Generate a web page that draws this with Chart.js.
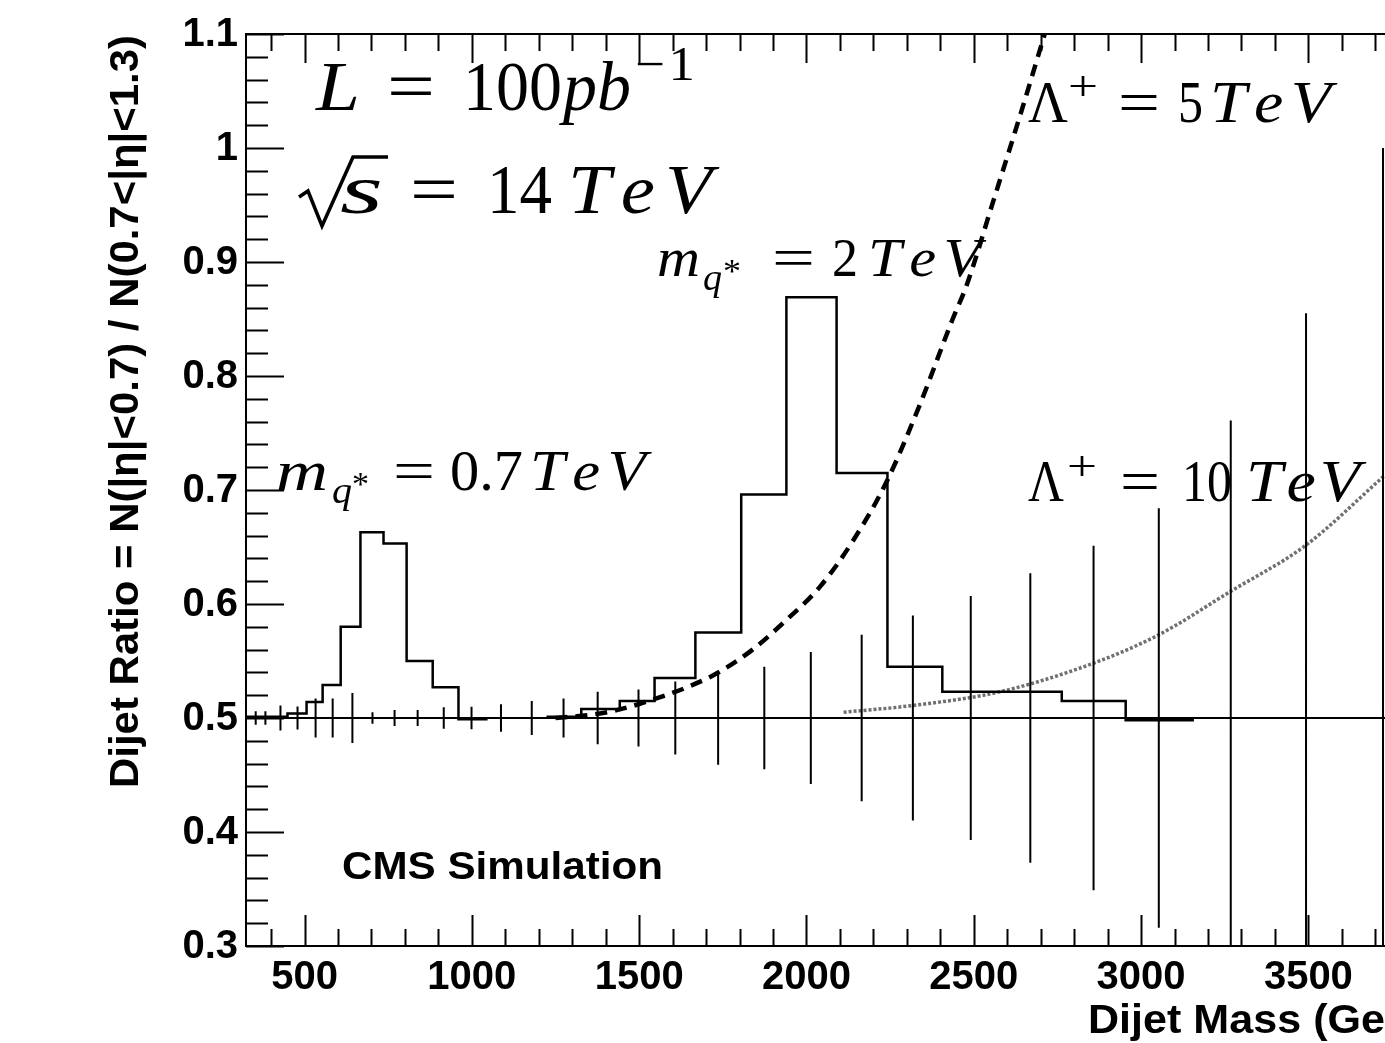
<!DOCTYPE html>
<html>
<head>
<meta charset="utf-8">
<script src="https://cdn.jsdelivr.net/npm/chart.js@4.4.1/dist/chart.umd.min.js"></script>
<style>
  html, body { margin: 0; padding: 0; background: #fff; }
  canvas { display: block; }
</style>
</head>
<body>
<canvas id="ratioChart" width="1385" height="1043"></canvas>
<script>
// axis ranges and tick labels
const massRange = [325, 3729];
const ratioRange = [0.3, 1.1];
const massTickValues = [500, 1000, 1500, 2000, 2500, 3000, 3500];
const massTickLabels = ['500', '1000', '1500', '2000', '2500', '3000', '3500'];
const ratioTickValues = [0.3, 0.4, 0.5, 0.6, 0.7, 0.8, 0.9, 1.0, 1.1];
const ratioTickLabels = ['0.3', '0.4', '0.5', '0.6', '0.7', '0.8', '0.9', '1', '1.1'];

// QCD expectation (flat line) and its statistical errors
const qcdLine = [0.5, 0.5];
const pointMass = [354, 383, 428, 479, 533, 584, 643, 703, 769, 838, 916, 999, 1087, 1179, 1274, 1376,
  1498, 1608, 1736, 1874, 2013, 2165, 2318, 2491, 2669, 2858, 3053, 3268, 3493, 3723];
const ratioErr = [0.006, 0.006, 0.011, 0.010, 0.017, 0.017, 0.022, 0.005, 0.007, 0.007, 0.0095, 0.0098,
  0.012, 0.015, 0.017, 0.023, 0.025, 0.032, 0.041, 0.045, 0.058, 0.073, 0.090, 0.107, 0.127, 0.151,
  0.184, 0.261, 0.355, 0.5];

// q* 0.7 TeV (bin edges + content)
const qstar07Edges = [325, 449, 506, 554, 608, 667, 736, 805, 883, 960, 1047];
const qstar07Ratio = [0.501, 0.504, 0.514, 0.529, 0.580, 0.663, 0.653, 0.550, 0.527, 0.499];

// q* 2 TeV
const qstar2Edges = [1223, 1327, 1442, 1546, 1668, 1805, 1940, 2090, 2242, 2406, 2763, 2954, 3158];
const qstar2Ratio = [0.501, 0.508, 0.515, 0.535, 0.575, 0.696, 0.869, 0.715, 0.545, 0.523, 0.515, 0.498];

// contact interactions
const lambda5Mass = [1250, 1330, 1421, 1570, 1660, 1731, 1839, 1940, 2040, 2138, 2239, 2339, 2437, 2478, 2560, 2640, 2712];
const lambda5Ratio = [0.500, 0.502, 0.506, 0.519, 0.529, 0.539, 0.560, 0.586, 0.615, 0.655, 0.707, 0.775, 0.850, 0.879, 0.955, 1.030, 1.100];
const lambda10Mass = [2111, 2318, 2578, 2857, 3053, 3267, 3490, 3729];
const lambda10Ratio = [0.505, 0.511, 0.523, 0.548, 0.573, 0.611, 0.651, 0.713];

// ヒストグラムを階段状の点列に変換（各ビンの右端に内容を置く）
function histPoints(edges, levels) {
  const pts = [{ x: edges[0], y: levels[0] }];
  levels.forEach((v, i) => pts.push({ x: edges[i + 1], y: v }));
  return pts;
}

// エラーバー（縦線）を null で区切った点列に
function errorBarPoints(xs, errs, center) {
  const pts = [];
  xs.forEach((x, i) => {
    pts.push({ x: x, y: center - errs[i] });
    pts.push({ x: x, y: center + errs[i] });
    pts.push({ x: x, y: null });
  });
  return pts;
}

function curvePoints(xs, ys) {
  return xs.map((x, i) => ({ x: x, y: ys[i] }));
}

// TeX風テキストを幅指定で描く（少し横に伸ばし、残りは字間で調整）
function drawPiece(ctx, p) {
  ctx.save();
  ctx.font = (p.it ? 'italic ' : '') + p.s + 'px "Liberation Serif", "DejaVu Serif", serif';
  ctx.textAlign = 'left';
  ctx.textBaseline = 'alphabetic';
  const w = ctx.measureText(p.t).width;
  if (p.t.length > 1 && p.w > w) {
    const sx = Math.min(p.w / w, 1.1);
    const gap = (p.w - w * sx) / (p.t.length - 1);
    ctx.translate(p.x, p.y);
    let x = 0;
    for (const ch of p.t) {
      ctx.save();
      ctx.translate(x, 0);
      ctx.scale(sx, 1);
      ctx.fillText(ch, 0, 0);
      ctx.restore();
      x += ctx.measureText(ch).width * sx + gap;
    }
  } else {
    ctx.translate(p.x, p.y);
    ctx.scale(p.w / w, 1);
    ctx.fillText(p.t, 0, 0);
  }
  ctx.restore();
}

const texLabels = [
  // L = 100 pb^-1
  { t: 'L', x: 316, w: 44, y: 110, s: 70, it: 1 },
  { t: '=', x: 387, w: 48, y: 110, s: 70 },
  { t: '100', x: 463, w: 99, y: 110, s: 70 },
  { t: 'pb', x: 563, w: 68, y: 110, s: 70, it: 1 },
  { t: '\u22121', x: 635, w: 60, y: 80, s: 48 },
  // sqrt(s) = 14 TeV
  { t: 's', x: 340, w: 43, y: 213, s: 70, it: 1 },
  { t: '=', x: 410, w: 48, y: 213, s: 70 },
  { t: '14', x: 487, w: 65, y: 213, s: 70 },
  { t: 'TeV', x: 568, w: 137, y: 213, s: 70, it: 1 },
  // m_q* = 2 TeV
  { t: 'm', x: 657, w: 43, y: 276, s: 55, it: 1 },
  { t: 'q', x: 703, w: 19, y: 290, s: 38, it: 1 },
  { t: '*', x: 723, w: 18, y: 282, s: 34 },
  { t: '=', x: 772, w: 43, y: 276, s: 55 },
  { t: '2', x: 832, w: 26, y: 276, s: 55 },
  { t: 'TeV', x: 868, w: 107, y: 276, s: 55, it: 1 },
  // m_q* = 0.7 TeV
  { t: 'm', x: 276, w: 52, y: 490, s: 57, it: 1 },
  { t: 'q', x: 332, w: 20, y: 503, s: 38, it: 1 },
  { t: '*', x: 352, w: 17, y: 495, s: 34 },
  { t: '=', x: 393, w: 42, y: 490, s: 57 },
  { t: '0.7', x: 450, w: 73, y: 490, s: 57 },
  { t: 'TeV', x: 530, w: 110, y: 490, s: 57, it: 1 },
  // Lambda+ = 5 TeV
  { t: '\u039B', x: 1028, w: 40, y: 122, s: 60 },
  { t: '+', x: 1068, w: 30, y: 100, s: 42 },
  { t: '=', x: 1118, w: 42, y: 122, s: 60 },
  { t: '5', x: 1178, w: 25, y: 122, s: 60 },
  { t: 'TeV', x: 1210, w: 115, y: 122, s: 60, it: 1 },
  // Lambda+ = 10 TeV
  { t: '\u039B', x: 1028, w: 36, y: 501, s: 60 },
  { t: '+', x: 1067, w: 30, y: 480, s: 42 },
  { t: '=', x: 1120, w: 40, y: 501, s: 60 },
  { t: '10', x: 1182, w: 50, y: 501, s: 60 },
  { t: 'TeV', x: 1246, w: 108, y: 501, s: 60, it: 1 }
];

// ROOT風の枠・目盛り・文字
const rootFramePlugin = {
  id: 'rootFrame',
  afterDraw(chart) {
    const ctx = chart.ctx;
    const { left, top, right, bottom } = chart.chartArea;
    const xs = chart.scales.x;
    const ys = chart.scales.y;
    ctx.save();
    ctx.strokeStyle = '#000';
    ctx.fillStyle = '#000';
    ctx.lineWidth = 2;

    // 枠
    ctx.beginPath();
    ctx.moveTo(right + 2, top);
    ctx.lineTo(left, top);
    ctx.lineTo(left, bottom);
    ctx.lineTo(right + 2, bottom);
    ctx.stroke();

    // x 目盛り（上下）
    ctx.beginPath();
    for (let m = 400; m <= 3700; m += 100) {
      const px = Math.round(xs.getPixelForValue(m)) + 0.5;
      const major = m % 500 === 0;
      ctx.moveTo(px, bottom);
      ctx.lineTo(px, bottom - (major ? 31 : 17));
      ctx.moveTo(px, top);
      ctx.lineTo(px, top + (major ? 29 : 17));
    }
    // y 目盛り
    for (let i = 0; i <= 40; i++) {
      const v = ratioRange[0] + i * 0.02;
      const py = Math.round(ys.getPixelForValue(v)) + 0.5;
      ctx.moveTo(left, py);
      ctx.lineTo(left + (i % 5 === 0 ? 38 : 22), py);
    }
    ctx.stroke();

    // 目盛りラベル
    ctx.font = 'bold 40px "Liberation Sans", Arial, sans-serif';
    ctx.textAlign = 'center';
    ctx.textBaseline = 'alphabetic';
    massTickValues.forEach((m, i) => {
      ctx.fillText(massTickLabels[i], xs.getPixelForValue(m), 989);
    });
    ctx.textAlign = 'right';
    ctx.textBaseline = 'middle';
    ratioTickValues.forEach((v, i) => {
      ctx.fillText(ratioTickLabels[i], 238, ys.getPixelForValue(v) + 1);
    });

    // y 軸タイトル
    const yTitle = 'Dijet Ratio = N(|\u03B7|<0.7) / N(0.7<|\u03B7|<1.3)';
    ctx.font = 'bold 40px "Liberation Sans", Arial, sans-serif';
    let w = ctx.measureText(yTitle).width;
    ctx.save();
    ctx.translate(138, 35);
    ctx.rotate(-Math.PI / 2);
    ctx.scale(753 / w, 1);
    ctx.textAlign = 'right';
    ctx.textBaseline = 'alphabetic';
    ctx.fillText(yTitle, 0, 0);
    ctx.restore();

    // x 軸タイトル
    w = ctx.measureText('Dijet Mass (Ge').width;
    ctx.save();
    ctx.translate(1088, 1033);
    ctx.scale(297 / w, 1);
    ctx.textAlign = 'left';
    ctx.textBaseline = 'alphabetic';
    ctx.fillText('Dijet Mass (GeV)', 0, 0);
    ctx.restore();

    // CMS Simulation
    ctx.font = 'bold 38px "Liberation Sans", Arial, sans-serif';
    w = ctx.measureText('CMS Simulation').width;
    ctx.save();
    ctx.translate(342, 869);
    ctx.scale(321 / w, 1);
    ctx.textAlign = 'left';
    ctx.fillText('CMS Simulation', 0, 0);
    ctx.restore();

    // TeX 風ラベル
    texLabels.forEach(p => drawPiece(ctx, p));

    // 根号
    ctx.lineWidth = 3.5;
    ctx.lineJoin = 'miter';
    ctx.beginPath();
    ctx.moveTo(299, 197);
    ctx.lineTo(308, 191);
    ctx.lineTo(322, 226);
    ctx.lineTo(353, 157);
    ctx.lineTo(388, 157);
    ctx.stroke();

    ctx.restore();
  }
};

const ctx = document.getElementById('ratioChart').getContext('2d');
new Chart(ctx, {
  type: 'line',
  data: {
    datasets: [
      {
        label: 'QCD',
        data: curvePoints(massRange, qcdLine),
        borderColor: '#000',
        borderWidth: 2,
        pointRadius: 0
      },
      {
        label: 'QCD errors',
        data: errorBarPoints(pointMass, ratioErr, 0.5),
        borderColor: '#000',
        borderWidth: 2,
        pointRadius: 0,
        spanGaps: false
      },
      {
        label: 'q* 0.7 TeV',
        data: histPoints(qstar07Edges, qstar07Ratio),
        stepped: 'after',
        borderColor: '#000',
        borderWidth: 2.5,
        pointRadius: 0
      },
      {
        label: 'q* 2 TeV',
        data: histPoints(qstar2Edges, qstar2Ratio),
        stepped: 'after',
        borderColor: '#000',
        borderWidth: 2.5,
        pointRadius: 0
      },
      {
        label: 'Lambda 5 TeV',
        data: curvePoints(lambda5Mass, lambda5Ratio),
        borderColor: '#000',
        borderWidth: 4.5,
        borderDash: [12, 8],
        cubicInterpolationMode: 'monotone',
        pointRadius: 0
      },
      {
        label: 'Lambda 10 TeV',
        data: curvePoints(lambda10Mass, lambda10Ratio),
        borderColor: '#707070',
        borderWidth: 3.5,
        borderDash: [3, 2],
        cubicInterpolationMode: 'monotone',
        pointRadius: 0
      }
    ]
  },
  options: {
    responsive: false,
    animation: false,
    devicePixelRatio: 1,
    layout: { padding: { left: 246, right: 0, top: 34, bottom: 97 } },
    plugins: {
      legend: { display: false },
      tooltip: { enabled: false }
    },
    scales: {
      x: { type: 'linear', min: massRange[0], max: massRange[1], display: false },
      y: { type: 'linear', min: ratioRange[0], max: ratioRange[1], display: false }
    }
  },
  plugins: [rootFramePlugin]
});
</script>
</body>
</html>
